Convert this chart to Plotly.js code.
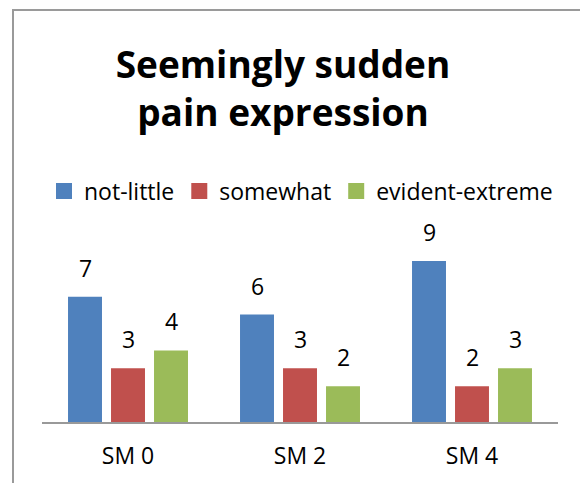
<!DOCTYPE html>
<html><head><meta charset="utf-8">
<script src="https://cdn.plot.ly/plotly-3.0.1.min.js"></script>
<style>
html,body{margin:0;padding:0;background:#fff;}
#wrap{position:relative;width:580px;height:483px;overflow:hidden;}
#chart{width:580px;height:483px;}
#frame{position:absolute;left:12px;top:9px;width:600px;height:500px;border:2px solid #9a9a9a;pointer-events:none;}
</style></head>
<body><div id="wrap"><div id="chart"></div><div id="frame"></div></div>
<script>
const categories = ["SM 0", "SM 2", "SM 4"];
const seriesNames = ["not-little", "somewhat", "evident-extreme"];
const notLittle = [7, 6, 9];
const somewhat = [3, 3, 2];
const evidentExtreme = [4, 2, 3];
const colors = ["#4F81BD", "#C0504D", "#9BBB59"];
const allSeries = [notLittle, somewhat, evidentExtreme];

const FONT = "Open Sans, Noto Sans, sans-serif";

const traces = allSeries.map((vals, i) => ({
  type: "bar", name: seriesNames[i], x: categories, y: vals,
  marker: {color: colors[i], line: {width: 0}},
  showlegend: false, hoverinfo: "none"
}));
// legend entries with larger square swatches
allSeries.forEach((vals, i) => {
  traces.push({
    type: "scatter", mode: "markers", name: seriesNames[i],
    x: [null], y: [null],
    marker: {symbol: "square", size: 16, color: colors[i]},
    showlegend: true, hoverinfo: "none"
  });
});

// data labels from data arrays
const annotations = [];
const nS = allSeries.length;
allSeries.forEach((vals, i) => {
  vals.forEach((v, j) => {
    annotations.push({
      x: j, y: v, xref: "x", yref: "y",
      text: String(v), showarrow: false,
      yanchor: "bottom", yshift: 11,
      xshift: (i - (nS - 1) / 2) * 43,
      font: {family: FONT, size: 23, color: "#000"}
    });
  });
});

const layout = {
  width: 580, height: 483,
  margin: {l: 42, r: 22, t: 243, b: 61},
  paper_bgcolor: "#fff", plot_bgcolor: "#fff",
  title: {
    text: "<b>Seemingly sudden<br>pain expression</b>",
    font: {family: FONT, size: 37, color: "#000"},
    x: (283 - 42) / 516, xref: "paper", xanchor: "center",
    y: 1 - 78 / 483, yref: "container", yanchor: "middle"
  },
  barmode: "group", bargap: 0.25, bargroupgap: 0.21,
  showlegend: true,
  legend: {
    orientation: "h", x: (44 - 42) / 516, xanchor: "left",
    y: 1 + (243 - 191) / 179, yanchor: "middle",
    font: {family: FONT, size: 23, color: "#000"},
    itemclick: false, traceorder: "normal", itemwidth: 30
  },
  xaxis: {
    type: "category", showline: true, linecolor: "#999999", linewidth: 2,
    ticks: "", ticklabelstandoff: 12,
    tickfont: {family: FONT, size: 23, color: "#000"},
    showgrid: false, zeroline: false, fixedrange: true
  },
  yaxis: {
    range: [0, 10], visible: false, showgrid: false, zeroline: false, fixedrange: true
  },
  annotations: annotations
};
Plotly.newPlot("chart", traces, layout, {displayModeBar: false, staticPlot: true});
</script></body></html>
